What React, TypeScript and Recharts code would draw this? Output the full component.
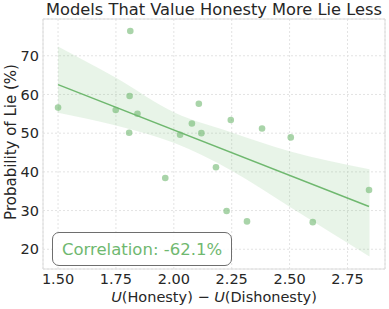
// Scatter + regressão com banda de confiança
import {
  ComposedChart,
  Scatter,
  Line,
  Area,
  XAxis,
  YAxis,
  CartesianGrid,
  ReferenceArea,
} from 'recharts'

const utilityDiff = [1.5, 1.812, 1.749, 1.809, 1.843, 1.807, 2.027, 2.078, 2.108, 2.119, 2.246, 2.381, 2.505, 1.963, 2.182, 2.228, 2.316, 2.6, 2.843]
const lieProbability = [56.6, 76.4, 56.0, 59.6, 55.0, 50.1, 49.6, 52.5, 57.6, 50.0, 53.4, 51.2, 48.9, 38.4, 41.2, 29.9, 27.2, 27.0, 35.3]

const bandX = [1.5, 1.75, 2.0, 2.25, 2.5, 2.845]
const bandLow = [55.3, 52.0, 47.5, 40.3, 31.0, 18.1]
const bandHigh = [72.4, 64.3, 55.4, 50.2, 45.3, 40.7]

const xTicks = [1.5, 1.75, 2.0, 2.25, 2.5, 2.75]
const yTicks = [20, 30, 40, 50, 60, 70]
const correlation = '-62.1%'

const GREEN = '#6fb86f'
const INK = '#262626'
const FONT = '"DejaVu Sans", sans-serif'

const points = utilityDiff.map((x, i) => ({ x, y: lieProbability[i] }))

// mínimos quadrados para a reta
const n = utilityDiff.length
const mx = utilityDiff.reduce((a, b) => a + b, 0) / n
const my = lieProbability.reduce((a, b) => a + b, 0) / n
let sxy = 0
let sxx = 0
utilityDiff.forEach((x, i) => {
  sxy += (x - mx) * (lieProbability[i] - my)
  sxx += (x - mx) * (x - mx)
})
const slope = sxy / sxx
const xMin = Math.min(...utilityDiff)
const xMax = Math.max(...utilityDiff)
const fitLine = [xMin, xMax].map(x => ({ x, fit: my + slope * (x - mx) }))

const band = bandX.map((x, i) => ({ x, band: [bandLow[i], bandHigh[i]] }))

const X_DOMAIN: [number, number] = [1.435, 2.912]
const Y_DOMAIN: [number, number] = [14.9, 79.5]

function XLabel({ viewBox }: any) {
  const cx = viewBox.x + viewBox.width / 2
  return (
    <text x={cx} y={301.5} textAnchor="middle" fill={INK} fontSize={14.5} fontFamily={FONT}>
      <tspan fontStyle="italic">U</tspan>
      <tspan>(Honesty) − </tspan>
      <tspan fontStyle="italic">U</tspan>
      <tspan>(Dishonesty)</tspan>
    </text>
  )
}

function YLabel({ viewBox }: any) {
  const cy = viewBox.y + viewBox.height / 2 - 2
  return (
    <text
      x={16}
      y={cy}
      transform={`rotate(-90 16 ${cy})`}
      textAnchor="middle"
      fill={INK}
      fontSize={15}
      fontFamily={FONT}
    >
      Probability of Lie (%)
    </text>
  )
}

export default function App() {
  return (
    <div style={{ position: 'absolute', left: 0, top: 0, width: 389, height: 309, background: '#fff' }}>
      <div
        style={{
          position: 'absolute',
          left: 0,
          top: 0,
          width: 428,
          textAlign: 'center',
          fontFamily: FONT,
          fontSize: 16.25,
          color: INK,
          lineHeight: '20px',
        }}
      >
        Models That Value Honesty More Lie Less
      </div>
      <ComposedChart
        width={389}
        height={309}
        margin={{ top: 19, right: 4, bottom: 0, left: 0 }}
        style={{ fontFamily: FONT }}
      >
        <CartesianGrid stroke="#e3e3e3" strokeDasharray="2 2" />
        <ReferenceArea
          x1={X_DOMAIN[0]}
          x2={X_DOMAIN[1]}
          y1={Y_DOMAIN[0]}
          y2={Y_DOMAIN[1]}
          fill="none"
          stroke="#dcdcdc"
          strokeWidth={1}
          ifOverflow="visible"
        />
        <XAxis
          dataKey="x"
          type="number"
          domain={X_DOMAIN}
          ticks={xTicks}
          allowDataOverflow
          tickFormatter={(v: number) => v.toFixed(2)}
          tick={{ fill: INK, fontSize: 14.5, fontFamily: FONT }}
          axisLine={false}
          tickLine={false}
          tickSize={5}
          tickMargin={0}
          height={40}
          label={{ content: (p: any) => <XLabel {...p} /> }}
        />
        <YAxis
          type="number"
          domain={Y_DOMAIN}
          ticks={yTicks}
          allowDataOverflow
          tick={{ fill: INK, fontSize: 14.5, fontFamily: FONT }}
          axisLine={false}
          tickLine={false}
          tickSize={4}
          tickMargin={0}
          width={43}
          label={{ content: (p: any) => <YLabel {...p} /> }}
        />
        <Area
          data={band}
          dataKey="band"
          type="monotone"
          stroke="none"
          fill={GREEN}
          fillOpacity={0.16}
          isAnimationActive={false}
        />
        <Scatter
          data={points}
          dataKey="y"
          isAnimationActive={false}
          shape={(p: any) => <circle cx={p.cx} cy={p.cy} r={3.3} fill={GREEN} fillOpacity={0.6} />}
        />
        <Line
          data={fitLine}
          dataKey="fit"
          stroke={GREEN}
          strokeWidth={1.5}
          dot={false}
          activeDot={false}
          isAnimationActive={false}
        />
      </ComposedChart>
      <div
        style={{
          position: 'absolute',
          left: 52,
          top: 232,
          width: 178,
          height: 32,
          border: '1px solid #6e6e6e',
          borderRadius: 7,
          background: 'rgba(255,255,255,0.85)',
          fontFamily: FONT,
          fontSize: 16.5,
          color: GREEN,
          display: 'flex',
          alignItems: 'center',
          justifyContent: 'center',
        }}
      >
        Correlation: {correlation}
      </div>
    </div>
  )
}
